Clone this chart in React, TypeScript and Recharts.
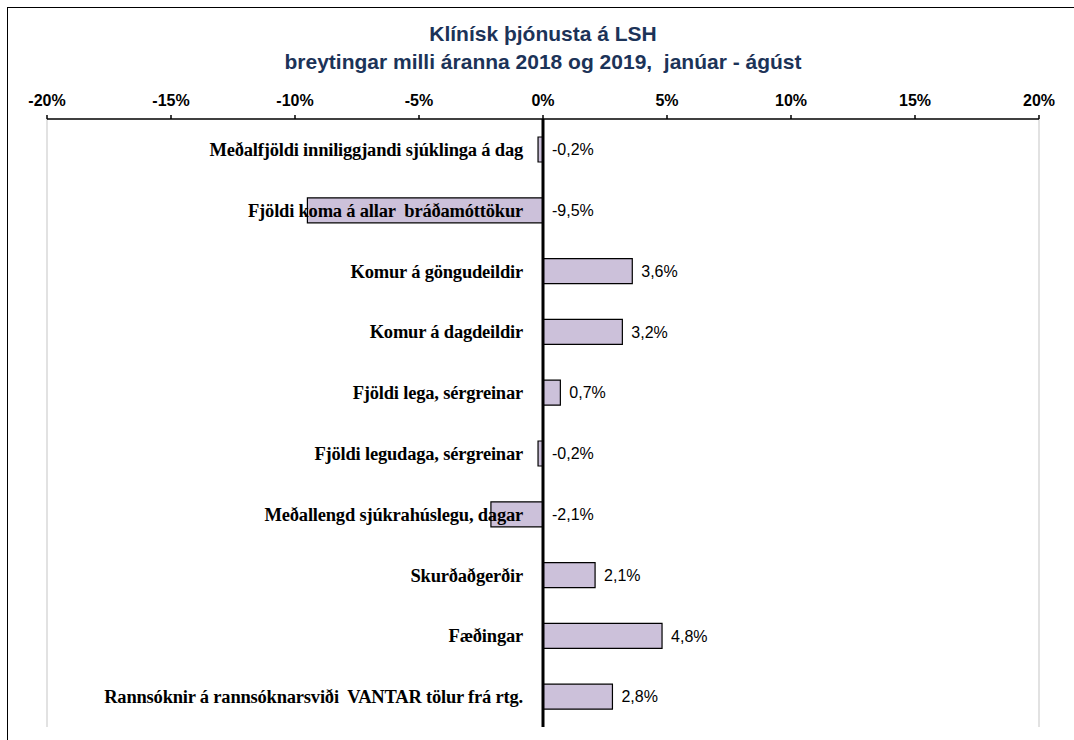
import React from 'react';
import {
  BarChart, Bar, XAxis, YAxis, CartesianGrid, ReferenceLine, LabelList,
} from 'recharts';

const categories = [
  'Meðalfjöldi inniliggjandi sjúklinga á dag',
  'Fjöldi koma á allar  bráðamóttökur',
  'Komur á göngudeildir',
  'Komur á dagdeildir',
  'Fjöldi lega, sérgreinar',
  'Fjöldi legudaga, sérgreinar',
  'Meðallengd sjúkrahúslegu, dagar',
  'Skurðaðgerðir',
  'Fæðingar',
  'Rannsóknir á rannsóknarsviði  VANTAR tölur frá rtg.',
];

const changes = [-0.2, -9.5, 3.6, 3.2, 0.7, -0.2, -2.1, 2.1, 4.8, 2.8];

const xTicks = [-20, -15, -10, -5, 0, 5, 10, 15, 20];

const data = categories.map((name, i) => ({ name, value: changes[i] }));

const SANS = '"Liberation Sans", Arial, sans-serif';
const SERIF = '"Liberation Serif", "Times New Roman", serif';

const fmtPct = (v: number) => `${v.toFixed(1).replace('.', ',')}%`;

// bar geometry may come with a negative width for negative values
const edges = (p: any) => {
  const vb = p.viewBox || p;
  const x = Number(vb.x ?? p.x);
  const w = Number(vb.width ?? p.width);
  const y = Number(vb.y ?? p.y);
  const h = Number(vb.height ?? p.height);
  return { lo: Math.min(x, x + w), hi: Math.max(x, x + w), cy: y + h / 2 };
};

const ValueLabel = (props: any) => {
  const { hi, cy } = edges(props);
  return (
    <text x={hi + 9} y={cy} dy="0.35em" fontFamily={SANS} fontSize={16} fill="#000">
      {fmtPct(Number(props.value))}
    </text>
  );
};

const NameLabel = (props: any) => {
  const { lo, hi, cy } = edges(props);
  const v = changes[props.index];
  const zero = v < 0 ? hi : lo;
  return (
    <text
      x={zero - 20} y={cy} dy="0.35em" textAnchor="end"
      fontFamily={SERIF} fontWeight="bold" fontSize={18.5} fill="#000"
      letterSpacing={-0.2} style={{ whiteSpace: 'pre' }}
    >
      {props.value}
    </text>
  );
};

export default function App() {
  return (
    <div style={{ position: 'absolute', left: 0, top: 0, width: 1074, height: 740, overflow: 'hidden', background: '#fff' }}>
      <div style={{ position: 'absolute', left: 7, top: 7, right: 0, bottom: 0, borderTop: '1.5px solid #000', borderLeft: '1.5px solid #000' }} />
      <div
        style={{
          position: 'absolute', left: 43, width: 1000, top: 20, textAlign: 'center',
          fontFamily: SANS, fontWeight: 'bold', fontSize: 21, lineHeight: '28px', color: '#1c3358',
        }}
      >
        <div>Klínísk þjónusta á LSH</div>
        <div>breytingar milli áranna 2018 og 2019,&nbsp; janúar - ágúst</div>
      </div>
      <div style={{ position: 'absolute', left: 0, top: 0 }}>
        <BarChart
          width={1074}
          height={740}
          data={data}
          layout="vertical"
          margin={{ top: 89, right: 35, bottom: 13, left: 47 }}
          barSize={25}
        >
          <CartesianGrid horizontal={false} stroke="#d9d9d9" strokeWidth={1.5} />
          <XAxis
            xAxisId="top"
            type="number"
            orientation="top"
            domain={[-20, 20]}
            ticks={xTicks}
            tickFormatter={(v: number) => `${v}%`}
            height={30}
            tickSize={4}
            tickMargin={9}
            axisLine={{ stroke: '#000', strokeWidth: 1.5 }}
            tickLine={{ stroke: '#000', strokeWidth: 1.5 }}
            tick={{ fontFamily: SANS, fontWeight: 'bold', fontSize: 16, fill: '#000' }}
          />
          <XAxis
            xAxisId="bottom"
            type="number"
            orientation="bottom"
            domain={[-20, 20]}
            ticks={xTicks}
            height={0}
            tick={false}
            tickLine={false}
            axisLine={{ stroke: '#c8c8c8', strokeWidth: 1.5 }}
          />
          <YAxis type="category" dataKey="name" hide />
          <Bar
            xAxisId="top"
            dataKey="value"
            fill="#ccc1da"
            stroke="#000"
            strokeWidth={1.2}
            isAnimationActive={false}
          >
            <LabelList dataKey="name" content={NameLabel} />
            <LabelList dataKey="value" content={ValueLabel} />
          </Bar>
          <ReferenceLine xAxisId="top" x={0} stroke="#000" strokeWidth={3} />
        </BarChart>
      </div>
    </div>
  );
}
